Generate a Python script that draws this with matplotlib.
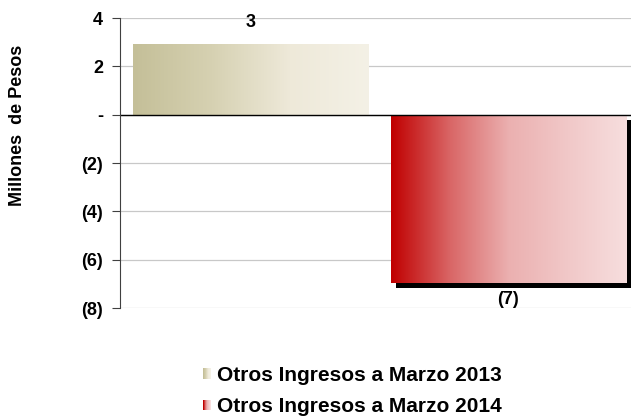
import numpy as np
import matplotlib
matplotlib.use('Agg')
from matplotlib import pyplot as plt
from matplotlib.patches import Rectangle
from matplotlib.colors import LinearSegmentedColormap
from matplotlib.ticker import FuncFormatter
from matplotlib.legend_handler import HandlerBase
import matplotlib.transforms as mtransforms

plt.rcParams['font.family'] = ['Liberation Sans', 'DejaVu Sans']
plt.rcParams['font.weight'] = 'bold'

series = ['Otros Ingresos a Marzo 2013', 'Otros Ingresos a Marzo 2014']
values = [2.93, -6.95]
yticks = [-8, -6, -4, -2, 0, 2, 4]

cmaps = [
    LinearSegmentedColormap.from_list('g1', ['#c4bf98', '#d6d1b2', '#eee9d9', '#f4f1e6']),
    LinearSegmentedColormap.from_list('g2', ['#c00000', '#d96666', '#ebb0b0', '#f1c8c8', '#f7dede']),
]
shadow_on = [False, True]


def fmt(v, pos=None):
    if abs(v) < 1e-9:
        return '-'
    if v < 0:
        return '(%d)' % round(-v)
    return '%d' % round(v)


class GradHandler(HandlerBase):
    def __init__(self, cmap):
        super().__init__()
        self.cmap = cmap

    def create_artists(self, legend, orig_handle, xdescent, ydescent, width, height, fontsize, trans):
        n = 8
        h = height * 0.75
        w = height * 0.55
        x0 = -xdescent + width - w
        arts = []
        for i in range(n):
            r = Rectangle((x0 + i * w / n, -ydescent + (height - h) / 2), w / n + 0.2, h,
                          facecolor=self.cmap(i / (n - 1)), edgecolor='none', transform=trans)
            arts.append(r)
        return arts


fig = plt.figure(figsize=(6.31, 4.16), dpi=100)
ax = fig.add_axes([0.19, 0.2596, 0.81, 0.697])

width = 0.913
gradient = np.linspace(0, 1, 256).reshape(1, -1)
handles = []
for i, v in enumerate(values):
    x0 = i - width / 2
    bottom, top = min(0, v), max(0, v)
    if shadow_on[i]:
        off = mtransforms.ScaledTranslation(5 / 100, -5 / 100, fig.dpi_scale_trans)
        sh = Rectangle((x0, bottom), width, top - bottom, facecolor='black', edgecolor='none',
                       transform=ax.transData + off, zorder=1.5, clip_on=False)
        ax.add_patch(sh)
    ax.imshow(gradient, cmap=cmaps[i], aspect='auto', extent=(x0, x0 + width, bottom, top),
              zorder=2)
    label_y = v + 0.9 if v > 0 else v - 0.7
    ax.text(i, label_y, fmt(v), ha='center', va='center', fontsize=13, fontweight='bold')
    handles.append(Rectangle((0, 0), 1, 1))

ax.set_xlim(-0.507, 1.477)
ax.set_ylim(-8, 4)
ax.set_yticks(yticks)
ax.yaxis.set_major_formatter(FuncFormatter(fmt))
ax.tick_params(axis='y', labelsize=13, length=6, color='#404040', pad=6)
ax.tick_params(axis='x', bottom=False, labelbottom=False)
ax.grid(axis='y', color='#c8c8c8', linewidth=0.9)
ax.set_axisbelow(True)
ax.axhline(0, color='black', linewidth=1.0, zorder=3)
for s in ['top', 'right', 'bottom']:
    ax.spines[s].set_visible(False)
ax.spines['left'].set_color('#404040')
ax.spines['left'].set_zorder(4)
ax.set_ylabel('Millones  de Pesos', fontsize=13, fontweight='bold')
ax.yaxis.set_label_coords(-0.184, 0.63)

leg = fig.legend(handles, series, loc='center', bbox_to_anchor=(0.555, 0.06), frameon=False,
                 handler_map={handles[0]: GradHandler(cmaps[0]), handles[1]: GradHandler(cmaps[1])},
                 prop={'size': 15, 'weight': 'bold'}, handlelength=0.6, handletextpad=0.3,
                 labelspacing=0.6)

fig.savefig('out.png', dpi=100)
